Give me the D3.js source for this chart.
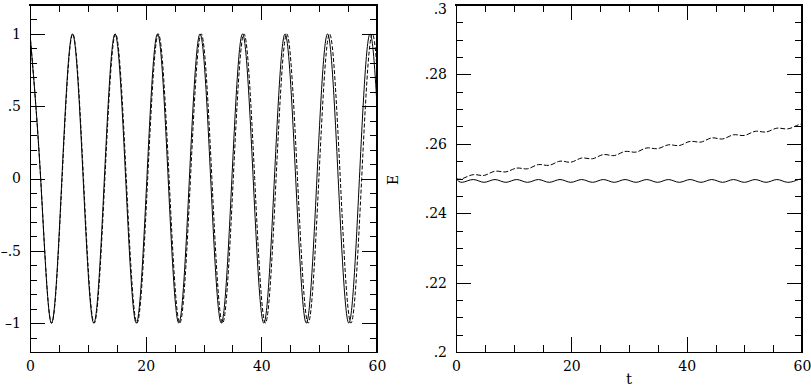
<!DOCTYPE html>
<html>
<head>
<meta charset="utf-8">
<script src="https://cdn.jsdelivr.net/npm/d3@7"></script>
<style>
  body { margin: 0; background: #fff; }
  text { font-family: "DejaVu Serif", serif; }
</style>
</head>
<body>
<script>
// values: extrema and zero crossings of the two oscillations
var oscTSolid = [0, 1.84, 3.68, 5.51, 7.35, 9.19, 11.03, 12.86, 14.70, 16.54, 18.38, 20.21,
  22.05, 23.89, 25.73, 27.56, 29.40, 31.24, 33.08, 34.91, 36.75, 38.59, 40.43, 42.26,
  44.10, 45.94, 47.78, 49.61, 51.45, 53.29, 55.13, 56.96, 58.80, 60.64];
var oscSolid = [1, 0, -1, 0, 1, 0, -1, 0, 1, 0, -1, 0, 1, 0, -1, 0, 1, 0, -1, 0,
  1, 0, -1, 0, 1, 0, -1, 0, 1, 0, -1, 0, 1, 0];
var oscTDashed = [0, 1.85, 3.70, 5.55, 7.40, 9.25, 11.10, 12.95, 14.80, 16.65, 18.50, 20.35,
  22.20, 24.05, 25.90, 27.75, 29.60, 31.45, 33.30, 35.15, 37.00, 38.85, 40.70, 42.55,
  44.40, 46.25, 48.10, 49.95, 51.80, 53.65, 55.50, 57.35, 59.20, 61.05];
var oscDashed = [1, 0, -1, 0, 1, 0, -1, 0, 1, 0, -1, 0, 1, 0, -1, 0, 1, 0, -1, 0,
  1, 0, -1, 0, 1, 0, -1, 0, 1, 0, -1, 0, 1, 0];

// energy, right panel (wiggle tops and bottoms)
var eT = [0, 1.10, 3.00, 4.88, 6.76, 8.64, 10.52, 12.40, 14.28, 16.16, 18.04, 19.92,
  21.80, 23.68, 25.56, 27.44, 29.32, 31.20, 33.08, 34.96, 36.84, 38.72, 40.60, 42.48,
  44.36, 46.24, 48.12, 50.00, 51.88, 53.76, 55.64, 57.52, 59.40, 60.00];
var eSolid = [0.2500, 0.2489, 0.2497, 0.2489, 0.2497, 0.2489, 0.2497, 0.2489, 0.2497, 0.2489,
  0.2497, 0.2489, 0.2497, 0.2489, 0.2497, 0.2489, 0.2497, 0.2489, 0.2497, 0.2489,
  0.2497, 0.2489, 0.2497, 0.2489, 0.2497, 0.2489, 0.2497, 0.2489, 0.2497, 0.2489,
  0.2497, 0.2489, 0.2497, 0.2496];
var eDashed = [0.2500, 0.24995, 0.2511, 0.2509, 0.2521, 0.2519, 0.2530, 0.2528, 0.2540, 0.2538,
  0.2550, 0.2547, 0.2559, 0.2557, 0.2569, 0.2566, 0.2578, 0.2576, 0.2588, 0.2586,
  0.2597, 0.2595, 0.2607, 0.2605, 0.2617, 0.2614, 0.2626, 0.2624, 0.2636, 0.2634,
  0.2645, 0.2643, 0.2655, 0.2653];

// tick labels
var xTickValues = [0, 20, 40, 60];
var xTickLabels = ["0", "20", "40", "60"];
var leftYTickValues = [-1, -0.5, 0, 0.5, 1];
var leftYTickLabels = ["\u20131", "\u2013.5", "0", ".5", "1"];
var rightYTickValues = [0.2, 0.22, 0.24, 0.26, 0.28, 0.3];
var rightYTickLabels = [".2", ".22", ".24", ".26", ".28", ".3"];

var svg = d3.select('body').append('svg')
  .attr('width', 811)
  .attr('height', 387);

// labels from d3 axes (no tick lines there, marks are drawn below)
const addLabels = (panel, axisFn, scale, values, labels, transform) => {
  var g = panel.append('g')
    .attr('transform', transform)
    .call(axisFn(scale)
      .tickValues(values)
      .tickSize(0)
      .tickPadding(9)
      .tickFormat((d, i) => labels[i]));
  g.select('.domain').remove();
  g.selectAll('line').remove();
  g.selectAll('text')
    .attr('font-family', '"DejaVu Serif", serif')
    .attr('font-size', 14)
    .attr('fill', '#000');
  return g;
}

// inward tick marks along one side of the frame
const addMarks = (panel, scale, values, len, side, pos) => {
  var vert = side === 'bottom' || side === 'top';
  var dir = side === 'bottom' || side === 'right' ? -1 : 1;
  panel.append('g').selectAll('line')
    .data(values)
    .enter().append('line')
    .attr('x1', d => vert ? Math.round(scale(d)) + 0.5 : pos)
    .attr('x2', d => vert ? Math.round(scale(d)) + 0.5 : pos + dir * len)
    .attr('y1', d => vert ? pos : Math.round(scale(d)) + 0.5)
    .attr('y2', d => vert ? pos + dir * len : Math.round(scale(d)) + 0.5)
    .style('stroke', 'black')
    .style('stroke-width', 1);
}

const drawPanel = (p) => {
  var x = d3.scaleLinear().domain([0, 60]).range([p.left, p.right]);
  var y = d3.scaleLinear().domain(p.yDomain).range([352, 5]);
  var panel = svg.append('g');
  var xMinor = d3.range(0, 60.01, 5);

  addMarks(panel, x, xMinor, 7, 'bottom', 352);
  addMarks(panel, x, xTickValues, 15, 'bottom', 352);
  addMarks(panel, x, xMinor, 7, 'top', 5);
  addMarks(panel, x, xTickValues, 15, 'top', 5);
  addMarks(panel, y, p.yMinor, 7, 'left', p.left);
  addMarks(panel, y, p.yMajor, 15, 'left', p.left);
  addMarks(panel, y, p.yMinor, 7, 'right', p.right);
  addMarks(panel, y, p.yMajor, 15, 'right', p.right);

  addLabels(panel, d3.axisBottom, x, xTickValues, xTickLabels, 'translate(0,352)')
    .selectAll('text').attr('dy', '0.73em');
  addLabels(panel, d3.axisLeft, y, p.yMajor, p.yLabels, 'translate(' + p.left + ',0)')
    .selectAll('text').attr('dy', (d, i) => i === p.yMajor.length - 1 && p.id === 'R' ? '0.6em' : '0.32em');

  // frame: top and right heavier than left and bottom
  var frame = [
    {x1: p.left, y1: 5, x2: p.right, y2: 5, w: 2},
    {x1: p.right, y1: 5, x2: p.right, y2: 352, w: 2},
    {x1: p.left, y1: 5, x2: p.left, y2: 352, w: 1},
    {x1: p.left, y1: 352, x2: p.right, y2: 352, w: 1}
  ];
  panel.selectAll('.frame').data(frame).enter().append('line')
    .attr('class', 'frame')
    .attr('x1', d => d.x1).attr('y1', d => d.y1)
    .attr('x2', d => d.x2).attr('y2', d => d.y2)
    .attr('stroke', '#000')
    .attr('stroke-width', d => d.w)
    .attr('stroke-linecap', 'square')
    .attr('shape-rendering', 'crispEdges');

  var clipId = 'clip' + p.id;
  svg.append('clipPath').attr('id', clipId)
    .append('rect')
    .attr('x', p.left).attr('y', 5)
    .attr('width', p.right - p.left).attr('height', 347);

  var line = d3.line()
    .x(d => x(d[0]))
    .y(d => y(d[1]))
    .curve(d3.curveNatural);

  p.series.forEach((s) => {
    panel.append('path')
      .datum(d3.zip(s.t, s.v))
      .attr('clip-path', 'url(#' + clipId + ')')
      .attr('d', line)
      .attr('fill', 'none')
      .attr('stroke', '#000')
      .attr('stroke-width', 1)
      .attr('stroke-dasharray', s.dash);
  });
}

drawPanel({
  id: 'L', left: 30, right: 377, yDomain: [-1.2, 1.2],
  yMinor: d3.range(-12, 12.5, 1).map(d => d / 10),
  yMajor: leftYTickValues, yLabels: leftYTickLabels,
  series: [
    {t: oscTSolid, v: oscSolid, dash: null},
    {t: oscTDashed, v: oscDashed, dash: '4,2'}
  ]
});

drawPanel({
  id: 'R', left: 456, right: 802, yDomain: [0.2, 0.3],
  yMinor: d3.range(40, 60.5, 1).map(d => d / 200),
  yMajor: rightYTickValues, yLabels: rightYTickLabels,
  series: [
    {t: eT, v: eSolid, dash: null},
    {t: eT, v: eDashed, dash: '5,2'}
  ]
});

// axis titles
svg.append('text')
  .attr('x', 629).attr('y', 384)
  .attr('text-anchor', 'middle')
  .attr('font-size', 15)
  .text('t');

svg.append('text')
  .attr('transform', 'translate(398,180) rotate(-90)')
  .attr('text-anchor', 'middle')
  .attr('font-size', 14)
  .text('E');
</script>
</body>
</html>
